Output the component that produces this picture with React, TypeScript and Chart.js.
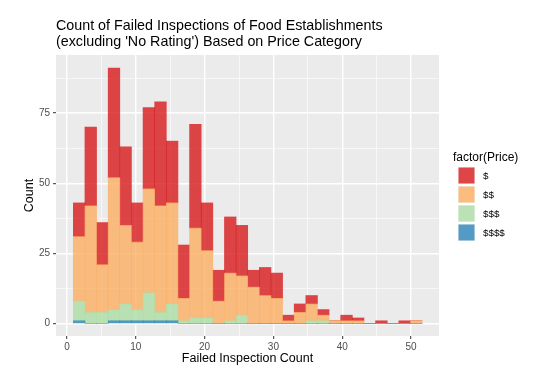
import React, { useEffect, useRef } from 'react';
import { Chart, registerables } from 'chart.js';

Chart.register(...registerables);

// Bin centers (Failed Inspection Count histogram bins)
const binCenters = [1.76, 3.45, 5.14, 6.83, 8.52, 10.21, 11.9, 13.59, 15.28, 16.97, 18.66, 20.35, 22.04, 23.73, 25.42, 27.11, 28.8, 30.49, 32.18, 33.87, 35.56, 37.25, 38.94, 40.63, 42.32, 44.01, 45.7, 47.39, 49.08, 50.77];

const price1 = [12, 28, 15, 39, 28, 14, 29, 37, 22, 19, 37, 17, 11, 20, 18, 6, 10, 9, 2, 3, 3, 2, 0, 2, 1, 0, 1, 0, 1, 0];
const price2 = [23, 38, 17, 47, 28, 24, 37, 38, 36, 8, 32, 24, 8, 17, 14, 13, 10, 9, 1, 4, 6, 2, 1, 1, 1, 0, 0, 0, 0, 1];
const price3 = [7, 4, 4, 4, 6, 4, 10, 3, 6, 1, 2, 2, 0, 1, 3, 0, 0, 0, 0, 0, 1, 1, 0, 0, 0, 0, 0, 0, 0, 0];
const price4 = [1, 0, 0, 1, 1, 1, 1, 1, 1, 0, 0, 0, 0, 0, 0, 0, 0, 0, 0, 0, 0, 0, 0, 0, 0, 0, 0, 0, 0, 0];

const seriesLabels = ['$', '$$', '$$$', '$$$$'];
const seriesColors = ['rgba(215,25,28,0.8)', 'rgba(253,174,97,0.8)', 'rgba(171,221,164,0.8)', 'rgba(43,131,186,0.8)'];

const xTicks = [0, 5, 10, 15, 20, 25, 30, 35, 40, 45, 50];
const yTicks = [0, 12.5, 25, 37.5, 50, 62.5, 75, 87.5];

const titleLines = ['Count of Failed Inspections of Food Establishments', "(excluding 'No Rating') Based on Price Category"];
const xTitle = 'Failed Inspection Count';
const yTitle = 'Count';
const legendTitle = 'factor(Price)';

const FONT = "'Liberation Sans', Arial, Helvetica, sans-serif";

export default function App() {
  const ref = useRef<HTMLCanvasElement | null>(null);

  useEffect(() => {
    document.body.style.margin = '0';
    const canvas = ref.current;
    if (!canvas) return;
    const series = [price1, price2, price3, price4];
    const order = [3, 2, 1, 0];
    const datasets = order.map((si) => ({
      label: seriesLabels[si],
      data: binCenters.map((x, i) => ({ x, y: series[si][i] })),
      backgroundColor: seriesColors[si],
      borderWidth: 0,
      barPercentage: 1,
      categoryPercentage: 1,
    }));

    const decor = {
      id: 'decor',
      beforeDraw(chart: any) {
        const { ctx, chartArea } = chart;
        ctx.save();
        ctx.fillStyle = '#EBEBEB';
        ctx.fillRect(chartArea.left, chartArea.top, chartArea.right - chartArea.left, chartArea.bottom - chartArea.top);
        ctx.restore();
      },
      afterDraw(chart: any) {
        const { ctx, chartArea } = chart;
        ctx.save();
        ctx.fillStyle = '#000000';
        ctx.textAlign = 'left';
        ctx.textBaseline = 'alphabetic';
        ctx.font = `14.3px ${FONT}`;
        ctx.fillText(titleLines[0], chartArea.left, 30);
        ctx.fillText(titleLines[1], chartArea.left, 46);

        // legend
        const lx = 453;
        ctx.font = `12px ${FONT}`;
        ctx.fillText(legendTitle, lx, 161);
        const keyX = 458;
        const keyY = 167;
        const keySize = 17;
        const step = 19;
        ctx.font = `9.8px ${FONT}`;
        ctx.textBaseline = 'middle';
        for (let i = 0; i < seriesLabels.length; i++) {
          const y = keyY + i * step;
          ctx.fillStyle = '#F2F2F2';
          ctx.fillRect(keyX, y, keySize, keySize);
          ctx.fillStyle = seriesColors[i];
          ctx.fillRect(keyX + 0.5, y + 0.5, keySize - 1, keySize - 1);
          ctx.fillStyle = '#000000';
          ctx.fillText(seriesLabels[i], 483, y + keySize / 2 + 0.5);
        }
        ctx.restore();
      },
    };

    const chart = new Chart(canvas, {
      type: 'bar',
      data: { datasets },
      plugins: [decor],
      options: {
        animation: false,
        responsive: false,
        layout: { padding: { left: 0, top: 55, right: 105, bottom: 0 } },
        plugins: { legend: { display: false }, tooltip: { enabled: false } },
        scales: {
          x: {
            type: 'linear',
            stacked: true,
            offset: false,
            min: -1.6,
            max: 54.07,
            afterBuildTicks: (scale: any) => {
              scale.ticks = xTicks.map((v) => ({ value: v }));
            },
            afterFit: (scale: any) => {
              scale.height = 40;
            },
            ticks: {
              autoSkip: false,
              maxRotation: 0,
              padding: 2,
              color: '#4D4D4D',
              font: { family: FONT, size: 10 },
              callback: (v: any) => (Number(v) % 10 === 0 ? String(v) : ''),
            },
            grid: {
              offset: false,
              color: '#FFFFFF',
              lineWidth: (ctx: any) => (ctx.tick && ctx.tick.value % 10 === 0 ? 1.4 : 0.6),
              tickLength: 3,
              tickColor: (ctx: any) => (ctx.tick && ctx.tick.value % 10 === 0 ? '#333333' : 'rgba(0,0,0,0)'),
              tickWidth: 1,
            },
            border: { display: false },
            title: {
              display: true,
              text: xTitle,
              color: '#000000',
              font: { family: FONT, size: 12.5 },
              padding: { top: 0, bottom: 10 },
            },
          },
          y: {
            type: 'linear',
            stacked: true,
            min: -4.42,
            max: 95.7,
            afterBuildTicks: (scale: any) => {
              scale.ticks = yTicks.map((v) => ({ value: v }));
            },
            afterFit: (scale: any) => {
              scale.width = 56;
            },
            ticks: {
              autoSkip: false,
              padding: 3,
              color: '#4D4D4D',
              font: { family: FONT, size: 10 },
              callback: (v: any) => (Number(v) % 25 === 0 ? String(v) : ''),
            },
            grid: {
              color: '#FFFFFF',
              lineWidth: (ctx: any) => (ctx.tick && ctx.tick.value % 25 === 0 ? 1.4 : 0.6),
              tickLength: 3,
              tickColor: (ctx: any) => (ctx.tick && ctx.tick.value % 25 === 0 ? '#333333' : 'rgba(0,0,0,0)'),
              tickWidth: 1,
            },
            border: { display: false },
            title: {
              display: true,
              text: yTitle,
              color: '#000000',
              font: { family: FONT, size: 12.5 },
              padding: { top: 22, bottom: 0 },
            },
          },
        },
      },
    } as any);

    return () => chart.destroy();
  }, []);

  return (
    <div style={{ position: 'fixed', left: 0, top: 0, width: 544, height: 376, background: '#FFFFFF' }}>
      <canvas ref={ref} width={544} height={376} style={{ width: 544, height: 376, display: 'block' }} />
    </div>
  );
}
